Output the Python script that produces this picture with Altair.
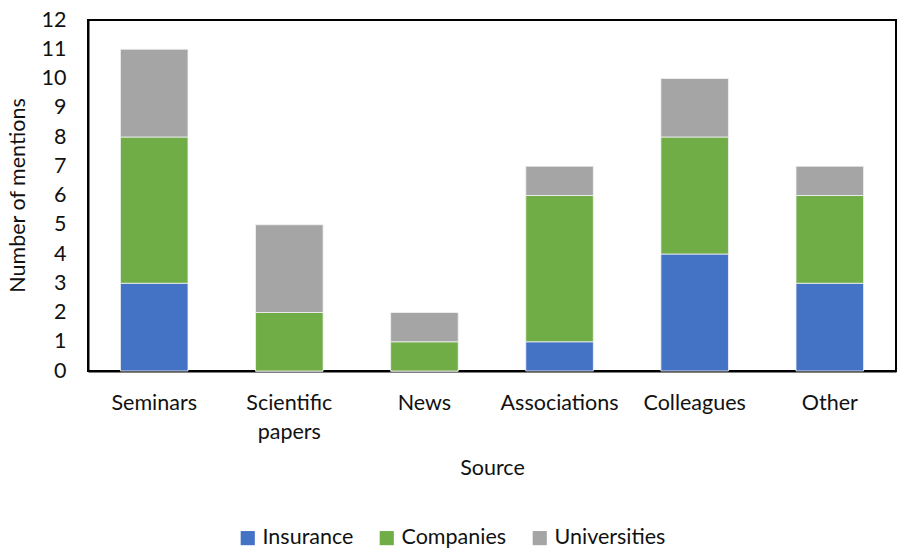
import altair as alt
import pandas as pd

sources = ["Seminars", "Scientific papers", "News", "Associations", "Colleagues", "Other"]
series = ["Insurance", "Companies", "Universities"]
insurance = [3, 0, 0, 1, 4, 3]
companies = [5, 2, 1, 5, 4, 3]
universities = [3, 3, 1, 1, 2, 1]
colors = ["#4472C4", "#70AD47", "#A5A5A5"]

rows = []
for i, s in enumerate(sources):
    for k, (name, vals) in enumerate(zip(series, [insurance, companies, universities])):
        rows.append({"Source": s, "Series": name, "Value": vals[i], "order": k})
df = pd.DataFrame(rows)

FONT = "Lato"
FS = 21.5

chart = alt.Chart(df).mark_bar(stroke="#f2f2f2", strokeWidth=0.8).encode(
    x=alt.X("Source:N", sort=sources,
            scale=alt.Scale(paddingInner=0.5, paddingOuter=0.24),
            axis=alt.Axis(title="Source", labelAngle=0, ticks=False, labelPadding=21,
                          labelExpr="datum.label == 'Scientific papers' ? ['Scientific', 'papers'] : datum.label",
                          labelLineHeight=29, labelBaseline="top",
                          domainColor="black", domainWidth=2,
                          titleY=97, titleBaseline="middle")),
    y=alt.Y("Value:Q", stack="zero",
            scale=alt.Scale(domain=[0, 12], nice=False),
            axis=alt.Axis(title="Number of mentions", values=list(range(13)), grid=False,
                          ticks=False, labelPadding=22, domainColor="black", domainWidth=2,
                          titleX=-70, titleY=175, titleBaseline="middle", titleAlign="center")),
    color=alt.Color("Series:N", sort=series,
                    scale=alt.Scale(domain=series, range=colors),
                    legend=alt.Legend(title=None, orient="none", legendX=149, legendY=507,
                                      direction="horizontal", symbolType="square",
                                      symbolSize=200, symbolStrokeWidth=0,
                                      labelOffset=4, columnPadding=22)),
    order=alt.Order("order:Q"),
).properties(
    width=808, height=351,
    autosize=alt.AutoSizeParams(type="none"),
    padding={"left": 88, "top": 20, "right": 1, "bottom": 180},
).configure_view(
    stroke="black", strokeWidth=2
).configure_axis(
    labelFont=FONT, titleFont=FONT, labelFontSize=FS, titleFontSize=FS,
    labelColor="#111", titleColor="#111", titleFontWeight="normal"
).configure_legend(
    labelFont=FONT, labelFontSize=FS, labelColor="#111"
)

chart.save("out.html", embed_options={"renderer": "svg", "actions": False})
